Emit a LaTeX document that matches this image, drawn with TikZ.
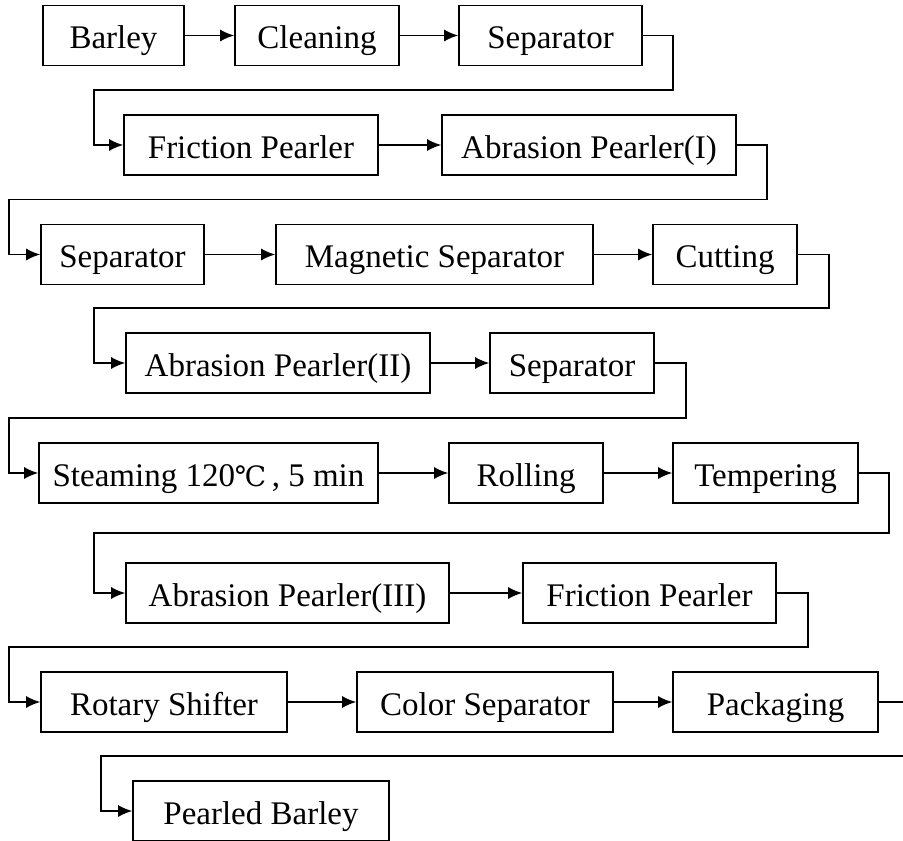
\documentclass[tikz,border=0pt]{standalone}
\usepackage{fontspec}
\setmainfont{Liberation Serif}
\newfontfamily\degfont{DejaVu Serif}
\usepackage{tikz}
\usetikzlibrary{arrows.meta,positioning,calc}
\tikzset{
block/.style = {draw, fill=white, rectangle, line width=0.8pt, minimum height=30pt, inner sep=0pt, text height=13pt, text depth=0pt},
flow/.style = {->, line width=0.8pt}
}

\begin{document}
\begin{tikzpicture}[auto, >={Latex[length=7pt,width=6pt]}, font=\fontsize{16.5}{20}\selectfont]
	\useasboundingbox (0,0) rectangle (451.5pt,-420pt);
	% row 1
	\node[block, minimum width=70.5pt] (barley) at (56.75pt,-17.75pt) {Barley};
	\node[block, minimum width=82pt, right of=barley, node distance=101.75pt] (clean) {Cleaning};
	\node[block, minimum width=91.5pt, right of=clean, node distance=116.75pt] (sepA) {Separator};
	% row 2
	\node[block, minimum width=127pt] (fricA) at (125.5pt,-72.5pt) {Friction Pearler};
	\node[block, minimum width=147pt, right of=fricA, node distance=169pt] (abrA) {Abrasion Pearler(I)};
	% row 3
	\node[block, minimum width=81.5pt] (sepB) at (61.25pt,-127.25pt) {Separator};
	\node[block, minimum width=158.5pt, right of=sepB, node distance=156pt] (magn) {Magnetic Separator};
	\node[block, minimum width=72pt, right of=magn, node distance=145.25pt] (cut) {Cutting};
	% row 4
	\node[block, minimum width=152pt] (abrB) at (139pt,-181.5pt) {Abrasion Pearler(II)};
	\node[block, minimum width=82pt, right of=abrB, node distance=147pt] (sepC) {Separator};
	% row 5
	\node[block, minimum width=169.5pt] (steam) at (104.25pt,-236.5pt) {Steaming 120{\degfont\fontsize{14}{16}\selectfont ℃}\,, 5 min};
	\node[block, minimum width=77pt, right of=steam, node distance=158.75pt] (roll) {Rolling};
	\node[block, minimum width=92.5pt, right of=roll, node distance=119.75pt] (temper) {Tempering};
	% row 6
	\node[block, minimum width=161.5pt] (abrC) at (143.75pt,-296.5pt) {Abrasion Pearler(III)};
	\node[block, minimum width=126.5pt, right of=abrC, node distance=181pt] (fricB) {Friction Pearler};
	% row 7
	\node[block, minimum width=123pt] (rotary) at (82pt,-351pt) {Rotary Shifter};
	\node[block, minimum width=128pt, right of=rotary, node distance=160.5pt] (color) {Color Separator};
	\node[block, minimum width=102.5pt, right of=color, node distance=145.25pt] (pack) {Packaging};
	% row 8
	\node[block, minimum width=128pt] (pearled) at (130.5pt,-405.5pt) {Pearled Barley};

	% straight links
	\draw[flow] (barley) -- (clean);
	\draw[flow] (clean) -- (sepA);
	\draw[flow] (fricA) -- (abrA);
	\draw[flow] (sepB) -- (magn);
	\draw[flow] (magn) -- (cut);
	\draw[flow] (abrB) -- (sepC);
	\draw[flow] (steam) -- (roll);
	\draw[flow] (roll) -- (temper);
	\draw[flow] (abrC) -- (fricB);
	\draw[flow] (rotary) -- (color);
	\draw[flow] (color) -- (pack);

	% return links to the next row
	\draw[flow] (sepA.east) -- ++(15pt,0) |- ([xshift=-14.5pt,yshift=27.5pt]fricA.west) |- (fricA);
	\draw[flow] (abrA.east) -- ++(15pt,0) |- ([xshift=-15.5pt,yshift=27.5pt]sepB.west) |- (sepB);
	\draw[flow] (cut.east) -- ++(15.5pt,0) |- ([xshift=-15.5pt,yshift=27.5pt]abrB.west) |- (abrB);
	\draw[flow] (sepC.east) -- ++(15.5pt,0) |- ([xshift=-14.5pt,yshift=27.5pt]steam.west) |- (steam);
	\draw[flow] (temper.east) -- ++(15pt,0) |- ([xshift=-15.5pt,yshift=30pt]abrC.west) |- (abrC);
	\draw[flow] (fricB.east) -- ++(15.5pt,0) |- ([xshift=-15.5pt,yshift=27.5pt]rotary.west) |- (rotary);
	\draw[flow] (pack.east) -- ++(15pt,0) |- ([xshift=-15.5pt,yshift=27.5pt]pearled.west) |- (pearled);
\end{tikzpicture}
\end{document}
